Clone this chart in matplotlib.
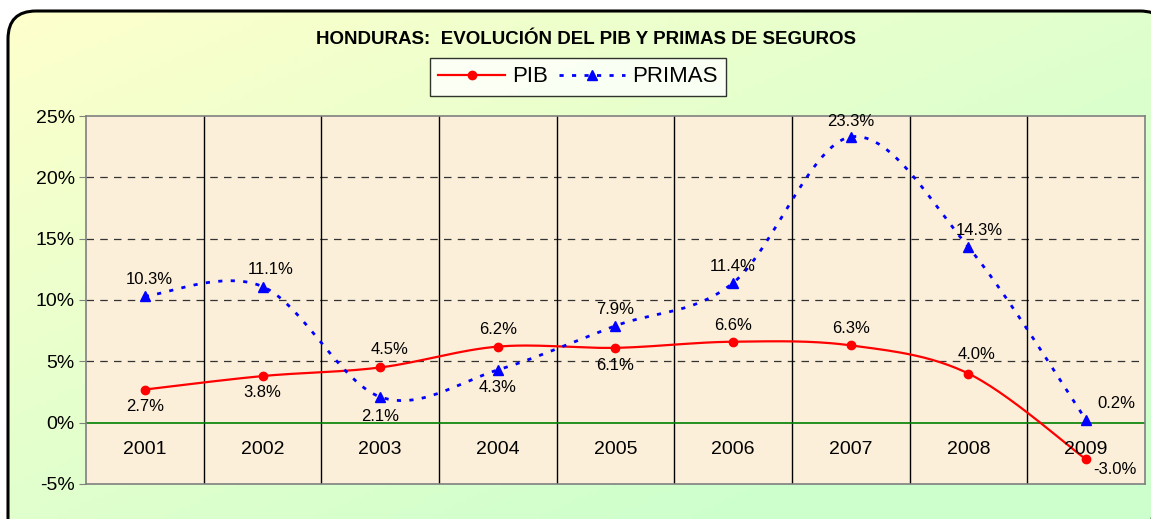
import numpy as np
import matplotlib.pyplot as plt
from matplotlib.patches import FancyBboxPatch
from matplotlib.lines import Line2D

plt.rcParams['font.family'] = ['Liberation Sans', 'DejaVu Sans']

years = ["2001", "2002", "2003", "2004", "2005", "2006", "2007", "2008", "2009"]
pib = [2.7, 3.8, 4.5, 6.2, 6.1, 6.6, 6.3, 4.0, -3.0]
primas = [10.3, 11.1, 2.1, 4.3, 7.9, 11.4, 23.3, 14.3, 0.2]

# label offsets in points (dx, dy)
pib_off = [(0, -12), (0, -12), (7, 13), (0, 12), (0, -13), (0, 12), (0, 12), (6, 14), (21, -7)]
primas_off = [(3, 12), (6, 12), (0, -14), (0, -13), (0, 12), (0, 12), (0, 11), (8, 12), (22, 12)]


def smooth(xs, ys, n=30):
    # Excel-like smoothed line (Catmull-Rom Bezier)
    pts = np.column_stack([xs, ys]).astype(float)
    ext = np.vstack([pts[0], pts, pts[-1]])
    out = []
    for i in range(len(pts) - 1):
        p0, p1, p2, p3 = ext[i], ext[i + 1], ext[i + 2], ext[i + 3]
        c1 = p1 + (p2 - p0) / 6
        c2 = p2 - (p3 - p1) / 6
        t = np.linspace(0, 1, n)[:, None]
        seg = (1 - t) ** 3 * p1 + 3 * (1 - t) ** 2 * t * c1 + 3 * (1 - t) * t ** 2 * c2 + t ** 3 * p2
        out.append(seg if i == 0 else seg[1:])
    s = np.vstack(out)
    return s[:, 0], s[:, 1]


W, H = 1151, 519
fig = plt.figure(figsize=(W / 100, H / 100), dpi=100)

# background frame with gradient
bg = fig.add_axes([0, 0, 1, 1])
bg.set_xlim(0, W)
bg.set_ylim(H, 0)
bg.axis('off')
gx, gy = np.meshgrid(np.linspace(0, 1, 200), np.linspace(0, 1, 100))
g = np.clip((gx * 0.6 + gy * 0.6), 0, 1)
c_a = np.array([1.0, 1.0, 0.80])
c_b = np.array([0.80, 1.0, 0.80])
img = c_a[None, None, :] * (1 - g[..., None]) + c_b[None, None, :] * g[..., None]
frame = FancyBboxPatch((8, 11), 1160, 540, boxstyle="round,pad=0,rounding_size=28",
                       fc='none', ec='black', lw=2.2, transform=bg.transData)
im = bg.imshow(img, extent=(0, W, H, 0), aspect='auto', zorder=0)
bg.add_patch(frame)
im.set_clip_path(frame)

fig.text(586 / W, 1 - 40 / H, "HONDURAS:  EVOLUCIÓN DEL PIB Y PRIMAS DE SEGUROS",
         ha='center', va='center', fontsize=13.5, fontweight='bold')

ax = fig.add_axes([86 / W, 35 / H, (1145 - 86) / W, 368 / H])
ax.set_facecolor('#FCEFD9')
x = np.arange(1, len(years) + 1)
ax.set_xlim(0.5, len(years) + 0.5)
ax.set_ylim(-5, 25)

for yv in [5, 10, 15, 20]:
    ax.axhline(yv, color='#333333', lw=0.9, ls=(0, (6, 5)), zorder=1)
for xv in x[:-1] + 0.5:
    ax.axvline(xv, color='black', lw=1, zorder=1)
ax.axhline(0, color='#008000', lw=1.2, zorder=2)

sx, sy = smooth(x, pib)
ax.plot(sx, sy, color='red', lw=1.6, zorder=3)
ax.plot(x, pib, 'o', color='red', ms=6, zorder=4)
sx, sy = smooth(x, primas)
ax.plot(sx, sy, color='blue', lw=2, ls=(0, (1.5, 3)), zorder=3)
ax.plot(x, primas, '^', color='blue', ms=7, zorder=4)

for xi, v, o in zip(x, pib, pib_off):
    ax.annotate(f"{v:.1f}%", (xi, v), xytext=o, textcoords='offset points',
                ha='center', va='center', fontsize=12, zorder=5)
for xi, v, o in zip(x, primas, primas_off):
    ax.annotate(f"{v:.1f}%", (xi, v), xytext=o, textcoords='offset points',
                ha='center', va='center', fontsize=12, zorder=5)
for xi, lab in zip(x, years):
    ax.annotate(lab, (xi, 0), xytext=(0, -19), textcoords='offset points',
                ha='center', va='center', fontsize=14, zorder=5)

ax.set_xticks([])
ax.set_yticks(range(-5, 26, 5))
ax.set_yticklabels([f"{t}%" for t in range(-5, 26, 5)], fontsize=14)
ax.tick_params(axis='y', length=5, color='#808080', pad=3)
for s in ax.spines.values():
    s.set_color('#808080')
    s.set_linewidth(1.2)

handles = [Line2D([], [], color='red', lw=1.6, marker='o', ms=6),
           Line2D([], [], color='blue', lw=2, ls=(0, (1.5, 3)), marker='^', ms=7)]
leg = fig.legend(handles, ["PIB", "PRIMAS"], loc='center', bbox_to_anchor=(578 / W, 1 - 77 / H),
                 ncol=2, fontsize=16, frameon=True, fancybox=False, edgecolor='black',
                 handlelength=3.0, handletextpad=0.3, columnspacing=0.5, borderpad=0.4)
leg.get_frame().set_linewidth(1)

fig.savefig("out.png", dpi=100)
